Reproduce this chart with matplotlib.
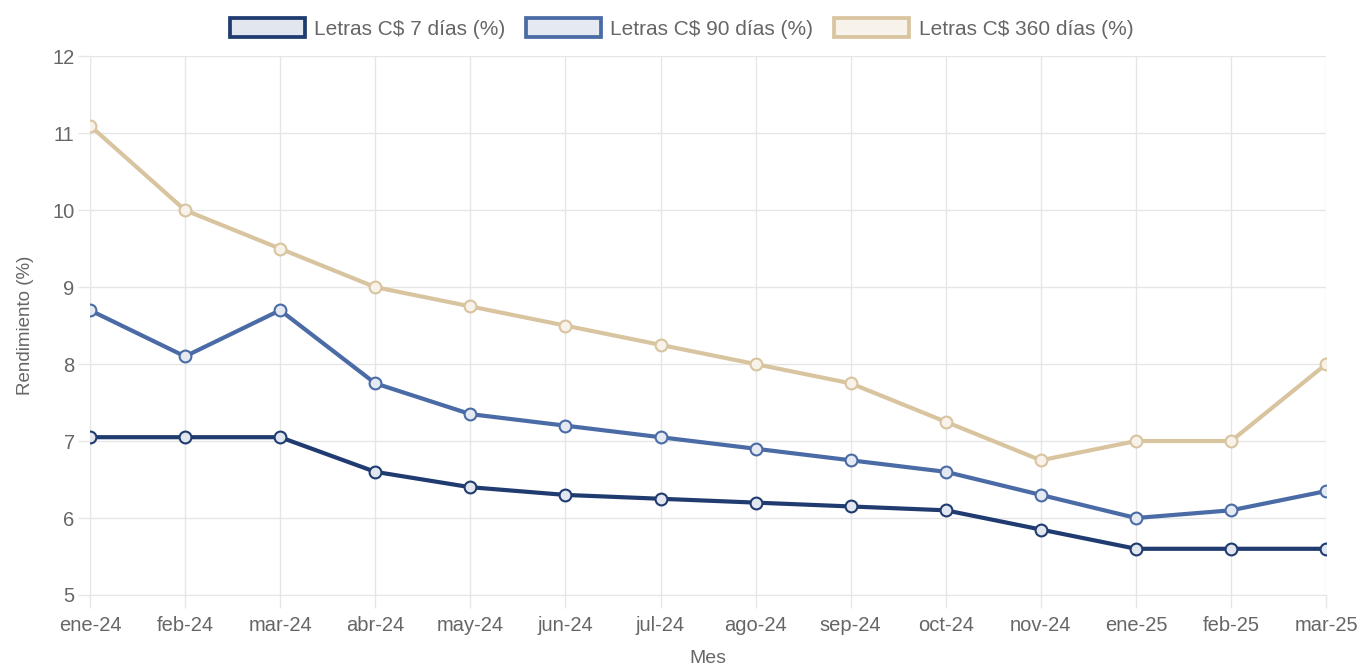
import matplotlib.pyplot as plt
from matplotlib.patches import Patch

plt.rcParams['font.family'] = ['Liberation Sans', 'DejaVu Sans']

meses = ["ene-24", "feb-24", "mar-24", "abr-24", "may-24", "jun-24", "jul-24",
         "ago-24", "sep-24", "oct-24", "nov-24", "ene-25", "feb-25", "mar-25"]
letras_7 = [7.05, 7.05, 7.05, 6.6, 6.4, 6.3, 6.25, 6.2, 6.15, 6.1, 5.85, 5.6, 5.6, 5.6]
letras_90 = [8.7, 8.1, 8.7, 7.75, 7.35, 7.2, 7.05, 6.9, 6.75, 6.6, 6.3, 6.0, 6.1, 6.35]
letras_360 = [11.1, 10.0, 9.5, 9.0, 8.75, 8.5, 8.25, 8.0, 7.75, 7.25, 6.75, 7.0, 7.0, 8.0]

series = [
    ("Letras C$ 7 días (%)", letras_7, "#1f3b70", "#e2e7ef"),
    ("Letras C$ 90 días (%)", letras_90, "#4a6ba6", "#e4e9f2"),
    ("Letras C$ 360 días (%)", letras_360, "#d9c4a0", "#f7f2ea"),
]

fig = plt.figure(figsize=(13.63, 6.7), dpi=100)
ax = fig.add_axes([0.066, 0.112, 0.907, 0.804])

x = list(range(len(meses)))
handles = []
for label, vals, color, fill in reversed(series):
    ax.plot(x, vals, color=color, linewidth=3, marker="o", markersize=8.5,
            markerfacecolor=fill, markeredgecolor=color, markeredgewidth=1.5,
            zorder=3)
for label, vals, color, fill in series:
    handles.append(Patch(facecolor=fill, edgecolor=color, linewidth=2.7, label=label))

ax.set_xlim(0, len(meses) - 1)
ax.set_ylim(5, 12)
ax.set_xticks(x)
ax.set_xticklabels(meses)
ax.set_yticks(range(5, 13))

ax.grid(True, color="#e6e6e6", linewidth=1)
ax.tick_params(axis="both", colors="#e6e6e6", labelcolor="#666666",
               labelsize=14.5, length=9, width=1)
ax.tick_params(axis="x", pad=6)
ax.tick_params(axis="y", pad=2)
for side in ["top", "right"]:
    ax.spines[side].set_visible(False)
for side in ["left", "bottom"]:
    ax.spines[side].set_color("#e6e6e6")

ax.set_ylabel("Rendimiento (%)", color="#666666", fontsize=13.5, labelpad=13)
ax.set_xlabel("Mes", color="#666666", fontsize=14, labelpad=11)

fig.legend(handles=handles, loc="center", bbox_to_anchor=(0.5, 0.958), ncol=3,
           frameon=False, fontsize=15, labelcolor="#666666",
           handlelength=3.6, handleheight=1.05, handletextpad=0.45,
           columnspacing=1.0)

fig.savefig("out.png", dpi=100, facecolor="white")
